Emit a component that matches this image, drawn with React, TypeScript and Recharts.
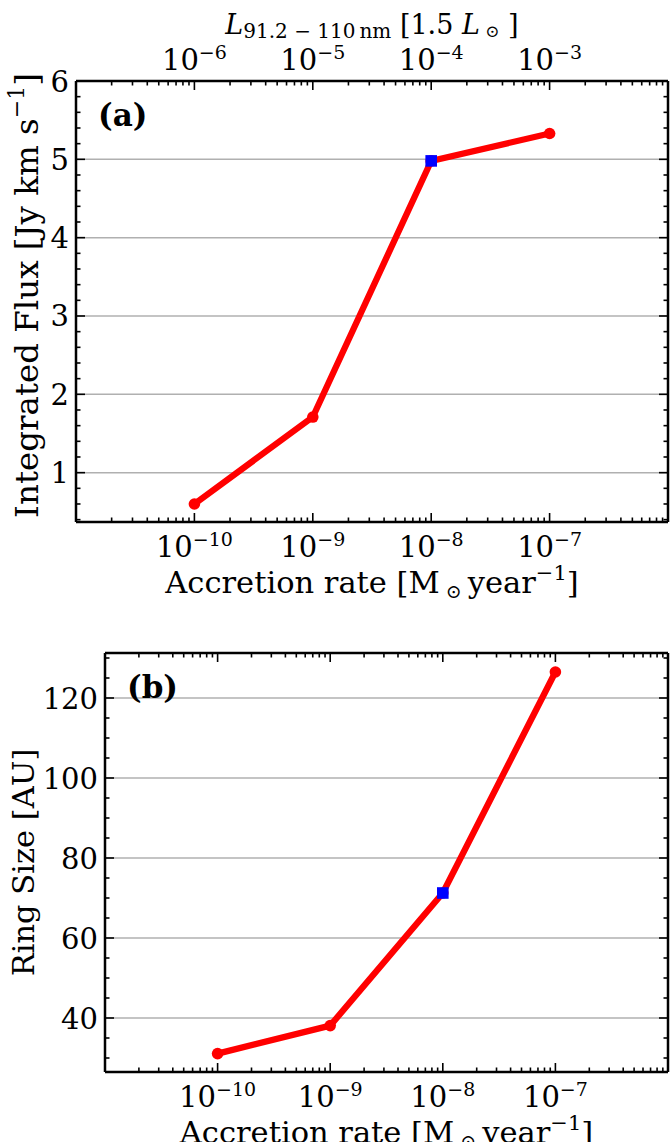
import React from 'react';
import { LineChart, Line, XAxis, YAxis, ReferenceLine } from 'recharts';

// Model grid: accretion rate (Msun/yr) against integrated flux and ring size
const accretionRates = [1e-10, 1e-9, 1e-8, 1e-7];
const integratedFlux = [0.6, 1.71, 4.98, 5.33];
const ringSize = [31.1, 38.1, 71.25, 126.5];
const fiducialRate = 1e-8;

// Axis settings
const rateDomain: [number, number] = [1e-11, 1e-6];
const rateLabelTicks = [1e-10, 1e-9, 1e-8, 1e-7];
const luminosityExponentShift = 4; // L(91.2-110 nm) decade = accretion decade + 4
const fluxDomain: [number, number] = [0.37, 6];
const fluxMajorTicks = [1, 2, 3, 4, 5, 6];
const fluxMinorTicks = [0.4, 0.6, 0.8, 1.2, 1.4, 1.6, 1.8, 2.2, 2.4, 2.6, 2.8, 3.2, 3.4, 3.6, 3.8, 4.2, 4.4, 4.6, 4.8, 5.2, 5.4, 5.6, 5.8];
const ringDomain: [number, number] = [26.5, 131.25];
const ringMajorTicks = [40, 60, 80, 100, 120];
const ringMinorTicks = [30, 35, 45, 50, 55, 65, 70, 75, 85, 90, 95, 105, 110, 115, 125, 130];

const FONT = "'DejaVu Serif', serif";
const TICK_FONT = 29;
const SUP_FONT = 19;
const LABEL_FONT = 30.5;
const MAJOR_LEN = 9;
const MINOR_LEN = 4.5;
const TICK_W = 1.6;
const FRAME = { stroke: '#000', strokeWidth: 2.5 };
const GRID = '#b0b0b0';
const RED = '#ff0000';
const BLUE = '#0000ff';

// log-axis ticks: decades plus 2..9 minors
const logTicks: number[] = [];
for (let d = -11; d < -6; d++) {
  for (let m = 1; m < 10; m++) logTicks.push(m * Math.pow(10, d));
}
logTicks.push(1e-6);

const isDecade = (v: number) => {
  const l = Math.log10(v);
  return Math.abs(l - Math.round(l)) < 1e-6;
};

const buildRows = (values: number[]) =>
  accretionRates.map((rate, i) => ({
    rate,
    value: values[i],
    mark: rate === fiducialRate ? values[i] : null,
  }));

const fluxRows = buildRows(integratedFlux);
const ringRows = buildRows(ringSize);

const makeXTick = (side: 'top' | 'bottom', labelled: boolean, shift: number) => (props: any) => {
  const { x, y, payload } = props;
  const v = payload.value as number;
  const major = isDecade(v);
  const len = major ? MAJOR_LEN : MINOR_LEN;
  const dir = side === 'bottom' ? -1 : 1;
  const exp = Math.round(Math.log10(v));
  const show = labelled && major && rateLabelTicks.some((t) => Math.round(Math.log10(t)) === exp);
  const e = exp + shift;
  return (
    <g>
      <line x1={x} y1={y} x2={x} y2={y + dir * len} stroke="#000" strokeWidth={TICK_W} />
      {show && (
        <text
          x={x}
          y={side === 'bottom' ? y + 35 : y - 11}
          textAnchor="middle"
          fontFamily={FONT}
          fontSize={TICK_FONT}
          fill="#000"
        >
          10
          <tspan dy={-11} fontSize={SUP_FONT}>
            {(e < 0 ? '\u2212' : '') + Math.abs(e)}
          </tspan>
        </text>
      )}
    </g>
  );
};

const makeYTick = (side: 'left' | 'right', majors: number[]) => (props: any) => {
  const { x, y, payload } = props;
  const v = payload.value as number;
  const major = majors.includes(v);
  const len = major ? MAJOR_LEN : MINOR_LEN;
  const dir = side === 'left' ? 1 : -1;
  return (
    <g>
      <line x1={x} y1={y} x2={x + dir * len} y2={y} stroke="#000" strokeWidth={TICK_W} />
      {side === 'left' && major && (
        <text x={x - 7} y={y + 10.5} textAnchor="end" fontFamily={FONT} fontSize={TICK_FONT} fill="#000">
          {v}
        </text>
      )}
    </g>
  );
};

const AccretionLabel = (props: any) => {
  const vb = props.viewBox;
  const cx = vb.x + vb.width / 2;
  return (
    <text x={cx} y={vb.y + 71} textAnchor="middle" fontFamily={FONT} fontSize={LABEL_FONT} fill="#000">
      Accretion rate [M
      <tspan fontSize={19} dy={5}>
        {' \u2299 '}
      </tspan>
      <tspan dy={-5}>year</tspan>
      <tspan dy={-13} fontSize={21}>
        {'\u22121'}
      </tspan>
      <tspan dy={13}>]</tspan>
    </text>
  );
};

const LuminosityLabel = (props: any) => {
  const vb = props.viewBox;
  const cx = vb.x + vb.width / 2;
  return (
    <text x={cx} y={34} textAnchor="middle" fontFamily={FONT} fontSize={27} fill="#000">
      <tspan fontStyle="italic">L</tspan>
      <tspan fontSize={20} dy={4}>
        {'91.2 \u2212 110\u2009nm'}
      </tspan>
      <tspan dy={-4}>{' [1.5'}</tspan>
      <tspan fontStyle="italic">{' L'}</tspan>
      <tspan fontSize={17} dy={3}>
        {' \u2299'}
      </tspan>
      <tspan dy={-3}>{' ]'}</tspan>
    </text>
  );
};

const makeYLabel = (
  baselineX: number,
  fontSize: number,
  shiftY: number,
  panel: string,
  content: React.ReactNode
) => (props: any) => {
  const vb = props.viewBox;
  const cy = vb.y + vb.height / 2 + shiftY;
  const plotLeft = vb.x + vb.width;
  return (
    <g>
      <text
        x={baselineX}
        y={cy}
        transform={`rotate(-90, ${baselineX}, ${cy})`}
        textAnchor="middle"
        fontFamily={FONT}
        fontSize={fontSize}
        fill="#000"
      >
        {content}
      </text>
      <text x={plotLeft + 22} y={vb.y + 45} fontFamily={FONT} fontWeight="bold" fontSize={31} fill="#000">
        {panel}
      </text>
    </g>
  );
};

const renderCircle = (props: any) => {
  const { cx, cy, index } = props;
  if (cx == null || cy == null) return <g key={`c${index}`} />;
  return <circle key={`c${index}`} cx={cx} cy={cy} r={5.8} fill={RED} stroke="none" />;
};

const renderSquare = (props: any) => {
  const { cx, cy, index } = props;
  if (cx == null || cy == null) return <g key={`s${index}`} />;
  return <rect key={`s${index}`} x={cx - 5.8} y={cy - 5.8} width={11.6} height={11.6} fill={BLUE} stroke="none" />;
};

type PanelProps = {
  rows: any[];
  width: number;
  height: number;
  topH: number;
  bottomH: number;
  leftW: number;
  yDomain: [number, number];
  yMajors: number[];
  yMinors: number[];
  showTopLabels: boolean;
  yLabel: (props: any) => React.ReactNode;
};

function Panel(p: PanelProps) {
  const yTicks = [...p.yMinors, ...p.yMajors].sort((a, b) => a - b);
  return (
    <LineChart width={p.width} height={p.height} data={p.rows} margin={{ top: 0, right: 0, bottom: 0, left: 0 }}>
      <XAxis
        xAxisId="bottom"
        dataKey="rate"
        type="number"
        scale="log"
        domain={rateDomain}
        allowDataOverflow
        ticks={logTicks}
        interval={0}
        orientation="bottom"
        height={p.bottomH}
        axisLine={FRAME}
        tickLine={false}
        tickSize={0}
        tickMargin={0}
        tick={makeXTick('bottom', true, 0)}
        label={{ content: AccretionLabel }}
      />
      <XAxis
        xAxisId="top"
        dataKey="rate"
        type="number"
        scale="log"
        domain={rateDomain}
        allowDataOverflow
        ticks={logTicks}
        interval={0}
        orientation="top"
        height={p.topH}
        axisLine={FRAME}
        tickLine={false}
        tickSize={0}
        tickMargin={0}
        tick={makeXTick('top', p.showTopLabels, luminosityExponentShift)}
        label={p.showTopLabels ? { content: LuminosityLabel } : undefined}
      />
      <YAxis
        yAxisId="left"
        type="number"
        domain={p.yDomain}
        allowDataOverflow
        ticks={yTicks}
        interval={0}
        width={p.leftW}
        axisLine={FRAME}
        tickLine={false}
        tickSize={0}
        tickMargin={0}
        tick={makeYTick('left', p.yMajors)}
        label={{ content: p.yLabel }}
      />
      <YAxis
        yAxisId="right"
        orientation="right"
        type="number"
        domain={p.yDomain}
        allowDataOverflow
        ticks={yTicks}
        interval={0}
        width={2}
        axisLine={FRAME}
        tickLine={false}
        tickSize={0}
        tickMargin={0}
        tick={makeYTick('right', p.yMajors)}
      />
      {p.yMajors.map((v) => (
        <ReferenceLine key={v} xAxisId="bottom" yAxisId="left" y={v} stroke={GRID} strokeWidth={1.5} />
      ))}
      <Line
        xAxisId="top"
        yAxisId="right"
        dataKey="value"
        stroke="none"
        dot={false}
        activeDot={false}
        isAnimationActive={false}
      />
      <Line
        xAxisId="bottom"
        yAxisId="left"
        dataKey="value"
        stroke={RED}
        strokeWidth={6.3}
        dot={renderCircle}
        activeDot={false}
        isAnimationActive={false}
      />
      <Line
        xAxisId="bottom"
        yAxisId="left"
        dataKey="mark"
        stroke="none"
        dot={renderSquare}
        activeDot={false}
        connectNulls={false}
        isAnimationActive={false}
      />
    </LineChart>
  );
}

export default function App() {
  return (
    <div
      style={{
        position: 'absolute',
        left: 0,
        top: 0,
        width: 670,
        height: 1142,
        background: '#fff',
        overflow: 'hidden',
      }}
    >
      <div style={{ position: 'absolute', left: 0, top: 0 }}>
        <Panel
          rows={fluxRows}
          width={670}
          height={610}
          topH={81}
          bottomH={88}
          leftW={76}
          yDomain={fluxDomain}
          yMajors={fluxMajorTicks}
          yMinors={fluxMinorTicks}
          showTopLabels
          yLabel={makeYLabel(38, 32.5, -6, '(a)', (
            <>
              Integrated Flux [Jy km s
              <tspan dy={-14} fontSize={22}>
                {'\u22121'}
              </tspan>
              <tspan dy={14}>]</tspan>
            </>
          ))}
        />
      </div>
      <div style={{ position: 'absolute', left: 0, top: 610 }}>
        <Panel
          rows={ringRows}
          width={670}
          height={532}
          topH={43}
          bottomH={70}
          leftW={105}
          yDomain={ringDomain}
          yMajors={ringMajorTicks}
          yMinors={ringMinorTicks}
          showTopLabels={false}
          yLabel={makeYLabel(34, LABEL_FONT, 0, '(b)', 'Ring Size [AU]')}
        />
      </div>
    </div>
  );
}
